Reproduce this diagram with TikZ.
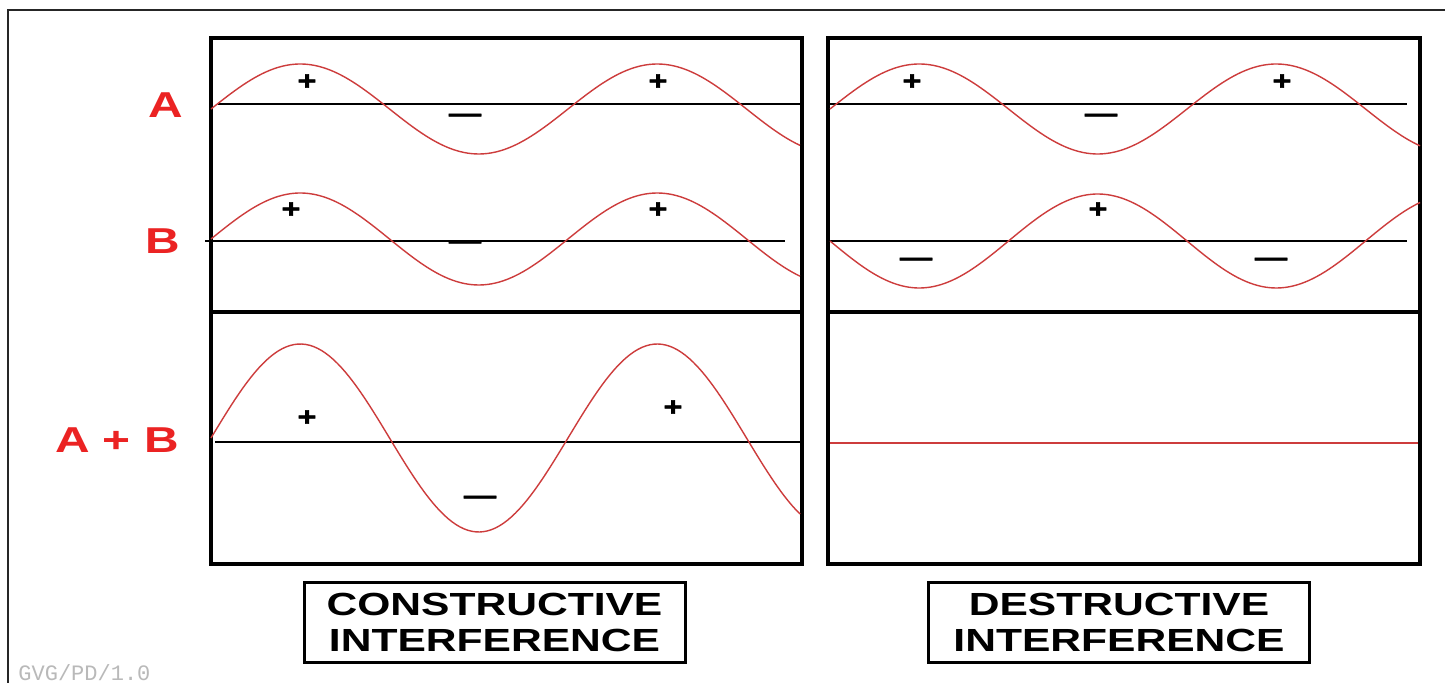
\documentclass[tikz,border=0pt]{standalone}
\usepackage{fontspec}
\setmainfont{Liberation Sans}
\setmonofont{Liberation Mono}
\newfontfamily\widesans[FakeStretch=1.33]{Liberation Sans}
\newfontfamily\signsans[FakeStretch=1.25,FakeBold=1.6]{Liberation Sans}
\definecolor{waveR}{RGB}{205,60,60}
\definecolor{labR}{RGB}{235,35,35}
\definecolor{tagG}{RGB}{185,185,185}

\begin{document}
\begin{tikzpicture}[x=0.5pt,y=-0.5pt,
  panel/.style={line width=2pt},
  axis/.style={line width=0.7pt},
  wave/.style={waveR,line width=0.7pt},
  sgn/.style={font=\signsans\bfseries\fontsize{13}{13}\selectfont,inner sep=0pt},
  lab/.style={font=\widesans\bfseries\fontsize{18}{18}\selectfont,text=labR,inner sep=0pt},
  caption/.style={draw,line width=1.5pt,minimum width=190.5pt,minimum height=40pt,inner sep=0pt,
    align=center,font=\widesans\bfseries\fontsize{16}{18}\selectfont}]
\useasboundingbox (0,0) rectangle (1445,683);
\fill[white] (0,0) rectangle (1445,683);
% outer frame, cut off at right and bottom
\draw[line width=1pt,black!85] (8,683) -- (8,10) -- (1445,10);
% row labels
\node[lab] (labA) at (166,105) {A};
\node[lab] (labB) at (163,241) {B};
\node[lab] (labAB) at (117,440) {A + B};
% constructive: A and B in phase
\draw[panel] (211,38) rectangle (802,564);
\draw[panel] (211,312) -- (802,312);
\draw[axis] (218,104) -- (800,104);
\draw[wave] plot[domain=211:800,samples=150] (\x,{109-45*sin((\x-211)/357*360)});
\node[sgn] (ca1) at (307,82) {+};
\node[sgn] (ca2) at (465,118) {—};
\node[sgn] (ca3) at (658,82) {+};
\draw[axis] (205,241) -- (785,241);
\draw[wave] plot[domain=211:800,samples=150] (\x,{239-46*sin((\x-211)/357*360)});
\node[sgn] (cb1) at (291,210) {+};
\node[sgn] (cb2) at (465,245) {—};
\node[sgn] (cb3) at (658,210) {+};
\draw[axis] (215,442) -- (800,442);
\draw[wave] plot[domain=211:800,samples=150] (\x,{438-94*sin((\x-211)/357*360)});
\node[sgn] (cs1) at (307,418) {+};
\node[sgn] (cs2) at (480,500) {—};
\node[sgn] (cs3) at (673,408) {+};
\node[caption] (capC) at (494.5,622) {CONSTRUCTIVE\\INTERFERENCE};
% destructive: B shifted by half a wave
\begin{scope}[shift={(618,0)}]
\draw[panel] (210,38) rectangle (802,564);
\draw[panel] (210,312) -- (802,312);
\draw[axis] (210,104) -- (789,104);
\draw[wave] plot[domain=212:802,samples=150] (\x,{109-45*sin((\x-212)/357*360)});
\node[sgn] (da1) at (294,82) {+};
\node[sgn] (da2) at (483,118) {—};
\node[sgn] (da3) at (664,82) {+};
\draw[axis] (210,241) -- (789,241);
\draw[wave] plot[domain=212:802,samples=150] (\x,{241+47*sin((\x-212)/357*360)});
\node[sgn] (db1) at (298,262) {—};
\node[sgn] (db2) at (480,210) {+};
\node[sgn] (db3) at (653,262) {—};
\draw[wave] (212,443) -- (800,443);
\node[caption] (capD) at (501,622) {DESTRUCTIVE\\INTERFERENCE};
\end{scope}
\node[font=\ttfamily\fontsize{11}{11}\selectfont,text=tagG,anchor=base west,inner sep=0pt] (tag) at (18,680) {GVG/PD/1.0};
\end{tikzpicture}
\end{document}
